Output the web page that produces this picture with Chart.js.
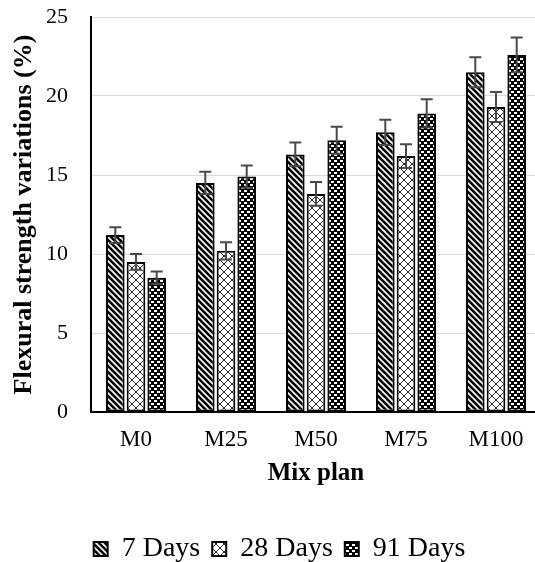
<!DOCTYPE html>
<html>
<head>
<meta charset="utf-8">
<script src="https://cdn.jsdelivr.net/npm/chart.js@4/dist/chart.umd.min.js"></script>
<style>
  html, body { margin: 0; padding: 0; background: #ffffff; }
  #wrap { width: 535px; height: 562px; }
</style>
</head>
<body>
<div id="wrap"><canvas id="chart" width="535" height="562"></canvas></div>
<script>
// Mix plans and flexural strength variation (%) by curing age
const categories = ['M0', 'M25', 'M50', 'M75', 'M100'];
const seriesNames = ['7 Days', '28 Days', '91 Days'];
const days7  = [11.2, 14.5, 16.3, 17.7, 21.5];
const days28 = [9.5, 10.2, 13.8, 16.2, 19.3];
const days91 = [8.5, 14.9, 17.2, 18.9, 22.6];
// Standard deviations shown as error bars
const err7  = [0.5, 0.7, 0.75, 0.8, 0.95];
const err28 = [0.5, 0.55, 0.75, 0.75, 0.95];
const err91 = [0.4, 0.7, 0.85, 0.9, 1.1];
const yTicks = [0, 5, 10, 15, 20, 25];

function makeTile(w, h, draw) {
  const c = document.createElement('canvas');
  c.width = w; c.height = h;
  const g = c.getContext('2d');
  draw(g, w, h);
  return g.createPattern(c, 'repeat');
}

// Diagonal stripes
const stripePattern = makeTile(6, 6, (g, w, h) => {
  g.fillStyle = '#ffffff';
  g.fillRect(0, 0, w, h);
  g.strokeStyle = '#000000';
  g.lineWidth = 2.6;
  for (const o of [-6, 0, 6]) {
    g.beginPath();
    g.moveTo(o - 1, -1);
    g.lineTo(o + 7, 7);
    g.stroke();
  }
});

// Open cross lattice
const latticePattern = makeTile(8, 8, (g, w, h) => {
  g.fillStyle = '#ffffff';
  g.fillRect(0, 0, w, h);
  g.strokeStyle = '#2a2a2a';
  g.lineWidth = 1;
  g.beginPath();
  g.moveTo(0, 0); g.lineTo(8, 8);
  g.moveTo(8, 0); g.lineTo(0, 8);
  g.stroke();
});

// Dark ground with small light dashes
const dashPattern = makeTile(6, 6, (g, w, h) => {
  g.fillStyle = '#000000';
  g.fillRect(0, 0, w, h);
  g.fillStyle = '#ffffff';
  g.fillRect(1, 1, 3, 2);
  g.fillRect(4, 4, 2, 2);
  g.fillRect(0, 4, 1, 2);
});

const errors = [err7, err28, err91];

const errorBars = {
  id: 'errorBars',
  afterDatasetsDraw(chart) {
    const ctx = chart.ctx;
    const y = chart.scales.y;
    ctx.save();
    ctx.strokeStyle = '#4a4a4a';
    ctx.lineWidth = 2;
    chart.data.datasets.forEach((ds, di) => {
      const meta = chart.getDatasetMeta(di);
      if (meta.hidden) return;
      meta.data.forEach((bar, i) => {
        const v = ds.data[i];
        const e = errors[di][i];
        const yTop = y.getPixelForValue(v + e);
        const yBot = y.getPixelForValue(v - e);
        const x = bar.x;
        ctx.beginPath();
        ctx.moveTo(x, yBot); ctx.lineTo(x, yTop);
        ctx.moveTo(x - 6, yTop); ctx.lineTo(x + 6, yTop);
        ctx.moveTo(x - 6, yBot); ctx.lineTo(x + 6, yBot);
        ctx.stroke();
      });
    });
    ctx.restore();
  }
};

// Plot area bounds and legend offset used after the automatic layout
const plotTop = 17;
const plotRight = 541;
const legendShift = 12;

const layoutFix = {
  id: 'layoutFix',
  afterLayout(chart) {
    const area = chart.chartArea;
    const xs = chart.scales.x;
    const ys = chart.scales.y;
    area.top = plotTop;
    area.right = plotRight;
    area.width = area.right - area.left;
    area.height = area.bottom - area.top;
    ys.top = area.top;
    ys.height = ys.bottom - ys.top;
    ys.configure();
    xs.right = area.right;
    xs.width = xs.right - xs.left;
    xs.configure();
    chart.legend.left += legendShift;
    chart.legend.right += legendShift;
  }
};

const serif = "'Liberation Serif', 'Times New Roman', serif";

new Chart(document.getElementById('chart'), {
  type: 'bar',
  data: {
    labels: categories,
    datasets: [
      { label: seriesNames[0], data: days7,  backgroundColor: stripePattern },
      { label: seriesNames[1], data: days28, backgroundColor: latticePattern },
      { label: seriesNames[2], data: days91, backgroundColor: dashPattern }
    ].map(d => Object.assign(d, {
      borderColor: '#000000',
      borderWidth: 2,
      borderSkipped: false,
      categoryPercentage: 0.69,
      barPercentage: 0.9
    }))
  },
  options: {
    responsive: false,
    animation: false,
    layout: { padding: { top: 17, right: 0, bottom: -11, left: 0 } },
    plugins: {
      tooltip: { enabled: false },
      legend: {
        position: 'bottom',
        labels: {
          color: '#000000',
          font: { family: serif, size: 28 },
          boxWidth: 14,
          boxHeight: 14,
          padding: 12
        }
      }
    },
    scales: {
      x: {
        grid: { display: false, drawTicks: false },
        border: { display: true, color: '#000000', width: 2 },
        ticks: { color: '#000000', font: { family: serif, size: 23 }, padding: 14, maxRotation: 0 },
        title: {
          display: true,
          text: 'Mix plan',
          color: '#000000',
          font: { family: serif, size: 25, weight: 'bold' },
          padding: { top: 0, bottom: 34 }
        },
        afterFit(scale) { scale.height = 111; }
      },
      y: {
        min: 0,
        max: 25,
        afterBuildTicks(scale) { scale.ticks = yTicks.map(v => ({ value: v })); },
        grid: { color: '#d9d9d9', lineWidth: 1, drawTicks: false },
        border: { display: true, color: '#000000', width: 2 },
        ticks: { color: '#000000', font: { family: serif, size: 22 }, padding: 23 },
        title: {
          display: true,
          text: 'Flexural strength variations (%)',
          color: '#000000',
          font: { family: serif, size: 26, weight: 'bold' },
          padding: { top: 9, bottom: 0 }
        },
        afterFit(scale) { scale.width = 91; }
      }
    }
  },
  plugins: [errorBars, layoutFix]
});
</script>
</body>
</html>
